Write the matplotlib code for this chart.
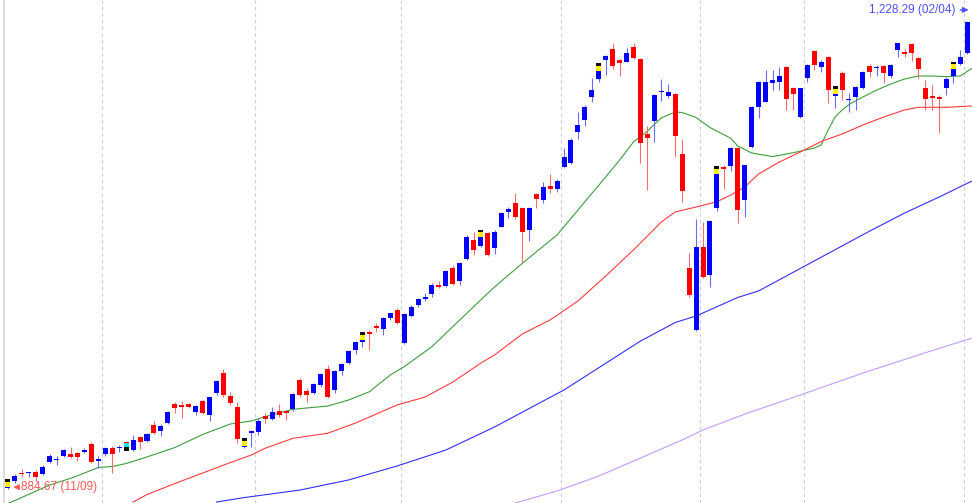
import matplotlib
matplotlib.use('Agg')
import matplotlib.pyplot as plt
from matplotlib.patches import Rectangle

# daily candles, oldest first (blue = close above open, red = close below open)
opens = [885.4, 890.8, 896.7, 896.6, 897.2, 895.7, 904.5, 906.0, 908.9, 910.6,
         911.3, 911.8, 917.7, 905.2, 910.2, 914.8, 914.6, 919.4, 913.3, 922.6,
         919.9, 931.7, 927.5, 932.9, 947.3, 946.6, 947.1, 941.4, 949.1, 939.0,
         954.9, 970.1, 953.0, 944.7, 915.5, 925.8, 926.8, 938.3, 936.3, 941.7,
         941.7, 943.2, 964.7, 956.4, 954.9, 961.0, 972.8, 957.4, 971.3, 977.0,
         986.7, 992.6, 1000.0, 1004.4, 1001.9, 1010.4, 1016.1, 991.7, 1011.7, 1019.6,
         1024.0, 1027.9, 1034.5, 1033.7, 1046.7, 1037.4, 1053.3, 1067.5, 1063.3, 1072.4,
         1061.4, 1077.3, 1088.3, 1094.4, 1090.8, 1074.8, 1101.3, 1096.9, 1107.1, 1104.9,
         1120.9, 1123.8, 1147.0, 1155.6, 1172.7, 1185.5, 1199.7, 1208.0, 1199.7, 1198.4,
         1209.4, 1200.4, 1145.3, 1155.1, 1175.9, 1173.5, 1174.5, 1130.4, 1046.7, 1001.4,
         1062.1, 1041.8, 1090.8, 1120.9, 1121.8, 1135.4, 1096.9, 1135.6, 1165.4, 1169.0,
         1183.0, 1183.7, 1194.7, 1178.9, 1157.6, 1186.2, 1206.5, 1194.3, 1202.1, 1173.2,
         1190.3, 1170.3, 1172.7, 1178.9, 1195.3, 1193.6, 1195.3, 1187.9, 1207.0, 1205.5,
         1211.2, 1200.9, 1178.9, 1173.5, 1172.3, 1178.9, 1187.9, 1196.7, 1204.6]
highs = [890.6, 895.7, 899.1, 897.2, 898.6, 902.1, 910.2, 909.1, 913.8, 915.3,
         912.0, 914.6, 919.2, 908.7, 915.3, 916.3, 916.8, 919.9, 924.1, 923.1,
         926.0, 934.4, 932.4, 942.2, 948.6, 949.3, 948.0, 946.4, 950.0, 952.4,
         964.7, 972.6, 956.1, 948.8, 917.0, 928.0, 936.6, 940.3, 945.1, 947.1,
         942.7, 954.9, 966.0, 958.6, 962.3, 969.6, 975.7, 972.1, 977.4, 986.7,
         993.6, 994.1, 1001.4, 1006.3, 1010.7, 1014.1, 1017.3, 1013.7, 1019.8, 1024.9,
         1028.8, 1035.7, 1037.2, 1045.5, 1049.1, 1051.6, 1071.2, 1073.6, 1069.5, 1073.4,
         1074.8, 1088.3, 1092.0, 1101.8, 1092.0, 1092.0, 1102.2, 1110.3, 1116.0, 1112.1,
         1134.8, 1142.2, 1161.7, 1166.6, 1186.2, 1191.6, 1203.3, 1211.9, 1200.2, 1208.3,
         1211.9, 1200.9, 1151.2, 1174.7, 1185.5, 1182.0, 1175.2, 1141.9, 1058.2, 1082.7,
         1080.9, 1082.2, 1116.0, 1122.6, 1135.6, 1136.0, 1122.6, 1165.9, 1184.2, 1192.3,
         1192.3, 1194.7, 1195.3, 1179.6, 1179.1, 1196.7, 1207.0, 1199.7, 1202.6, 1174.7,
         1191.8, 1175.2, 1180.6, 1191.8, 1196.7, 1196.0, 1195.8, 1196.7, 1212.4, 1207.5,
         1211.9, 1202.1, 1185.0, 1181.3, 1174.0, 1187.4, 1192.8, 1207.0, 1228.29]
lows = [884.67, 889.3, 893.3, 893.5, 890.8, 895.2, 904.0, 902.5, 908.4, 907.7,
        905.5, 911.1, 903.6, 899.9, 908.9, 896.7, 911.8, 913.0, 912.8, 913.8,
        919.4, 925.1, 923.6, 932.4, 940.3, 936.6, 944.2, 939.0, 939.7, 934.4,
        953.9, 952.0, 946.4, 918.2, 914.5, 915.5, 924.3, 933.4, 935.3, 937.8,
        935.3, 942.2, 952.4, 948.8, 954.4, 959.8, 951.3, 954.9, 968.4, 976.5,
        983.8, 989.2, 986.7, 1000.2, 997.7, 1008.8, 1005.8, 991.1, 1010.7, 1018.5,
        1022.9, 1025.9, 1032.0, 1032.8, 1034.5, 1034.5, 1052.8, 1056.5, 1062.4, 1055.7,
        1057.2, 1076.8, 1083.4, 1082.7, 1051.6, 1067.0, 1090.8, 1094.9, 1101.8, 1103.0,
        1120.1, 1123.3, 1141.4, 1151.2, 1169.0, 1183.7, 1188.6, 1192.8, 1187.9, 1198.0,
        1200.2, 1124.3, 1104.2, 1139.7, 1169.8, 1171.5, 1128.2, 1095.4, 1025.9, 1000.9,
        1039.4, 1033.2, 1088.8, 1104.7, 1118.4, 1080.2, 1084.6, 1134.8, 1156.9, 1168.8,
        1177.6, 1177.6, 1163.0, 1163.0, 1157.1, 1183.7, 1192.3, 1191.1, 1167.9, 1164.4,
        1170.3, 1161.7, 1163.0, 1178.1, 1187.4, 1187.9, 1182.6, 1186.2, 1202.1, 1202.1,
        1199.1, 1186.2, 1163.0, 1163.0, 1146.3, 1174.0, 1182.6, 1196.0, 1204.1]
closes = [886.1, 894.5, 895.5, 897.2, 893.3, 901.1, 908.7, 906.7, 913.3, 908.2,
          908.2, 913.5, 904.3, 906.5, 914.8, 910.2, 915.5, 918.2, 920.7, 919.2,
          925.1, 926.0, 931.2, 941.4, 944.4, 945.1, 945.1, 945.8, 940.5, 952.0,
          963.8, 953.9, 947.6, 921.2, 916.3, 927.3, 934.8, 936.3, 941.2, 939.0,
          940.3, 954.4, 953.7, 953.7, 961.8, 969.1, 952.0, 971.3, 976.7, 986.0,
          992.8, 994.1, 998.7, 1003.1, 1010.0, 1013.7, 1006.3, 1012.9, 1018.5, 1024.2,
          1025.9, 1034.5, 1033.2, 1044.5, 1035.2, 1050.4, 1069.9, 1060.2, 1069.5, 1056.5,
          1073.6, 1087.5, 1090.0, 1084.2, 1073.2, 1090.8, 1097.8, 1106.2, 1104.7, 1110.8,
          1128.2, 1140.9, 1151.9, 1165.4, 1177.6, 1191.6, 1202.6, 1195.5, 1197.2, 1205.0,
          1200.9, 1138.5, 1142.2, 1173.7, 1176.9, 1175.9, 1143.9, 1103.5, 1027.1, 1062.1,
          1040.1, 1081.7, 1116.0, 1119.6, 1134.8, 1089.5, 1122.6, 1164.9, 1183.7, 1183.7,
          1185.0, 1187.9, 1170.8, 1174.7, 1178.9, 1196.0, 1196.0, 1198.0, 1177.6, 1174.7,
          1177.6, 1171.2, 1179.6, 1191.1, 1191.1, 1194.5, 1189.9, 1196.0, 1211.9, 1203.8,
          1204.6, 1193.1, 1170.8, 1171.5, 1170.8, 1185.7, 1192.8, 1202.1, 1227.8]

# signal markers every 17 sessions (the cyan one hangs below its candle)
marker_idx = [0, 17, 34, 51, 68, 85, 102, 119, 136]
marker_below = [17]

# month boundaries (dashed lines)
month_lines = [13.5, 35.5, 56.5, 79.5, 99.5, 114.5, 137.5]

# moving averages, read at sample sessions
ma_short_x = [0, 6, 9, 11, 13, 15, 17, 20, 24, 28, 32, 35, 37, 41, 46, 49, 52, 55, 57, 61,
              65, 68, 70, 74, 79, 82, 86, 88, 90, 92, 94, 96, 97, 99, 101, 104, 105, 107,
              110, 113, 116, 117, 118, 119, 120, 121, 123, 125, 127, 129, 131, 133, 135,
              137, 138.7]
ma_short_y = [874.0, 887.6, 892.5, 896.4, 900.5, 901.2, 903.4, 908.2, 915.1, 924.7, 932.4,
              934.6, 937.8, 943.2, 945.6, 950.0, 956.1, 968.4, 974.5, 989.2, 1008.8, 1023.4,
              1033.0, 1050.4, 1071.2, 1089.5, 1113.8, 1126.2, 1139.5, 1147.5, 1157.1, 1161.5,
              1161.1, 1157.4, 1150.1, 1142.2, 1136.5, 1131.4, 1128.7, 1131.6, 1135.0, 1137.3,
              1148.3, 1157.8, 1162.9, 1167.0, 1172.5, 1177.6, 1182.0, 1185.7, 1187.9, 1187.9,
              1187.4, 1187.9, 1193.6]
ma_mid_x = [18, 20, 24, 28, 32, 35, 37, 41, 46, 50, 56, 60, 64, 68, 70, 74, 78, 82, 86, 90,
            94, 96, 99, 102, 104, 106, 108, 111, 114, 117, 120, 123, 126, 129, 131, 135, 138.7]
ma_mid_y = [875.1, 880.6, 888.7, 896.4, 904.1, 909.6, 914.6, 921.9, 925.6, 933.1, 946.4,
            952.2, 963.2, 977.0, 983.1, 998.5, 1008.8, 1022.7, 1041.1, 1060.2, 1080.7,
            1088.1, 1091.7, 1095.6, 1100.5, 1106.4, 1116.0, 1124.8, 1132.1, 1139.8, 1145.3,
            1151.9, 1157.8, 1163.0, 1164.9, 1164.9, 1165.9]
ma_long_x = [30, 34, 42, 49, 56, 63, 70, 80, 91, 96, 99, 105, 108, 124, 129, 134, 138.7]
ma_long_y = [875.1, 878.4, 883.9, 891.3, 901.6, 913.3, 930.2, 957.4, 993.3, 1006.9, 1011.7,
             1025.3, 1030.1, 1074.1, 1087.3, 1099.1, 1110.8]
ma_year_x = [73, 79, 85, 91, 97, 100, 106, 114, 123, 131, 138.7]
ma_year_y = [874.4, 883.2, 894.2, 907.4, 920.7, 928.0, 939.7, 953.7, 969.8, 983.1, 995.5]

low_label = '884.67 (11/09)'
high_label = '1,228.29 (02/04)'

label_font = ['Liberation Sans Narrow', 'Liberation Sans', 'DejaVu Sans']

fig = plt.figure(figsize=(9.72, 5.03), dpi=100)
ax = fig.add_axes([0, 0, 1, 1])
ax.set_xlim(-1.15, 138.7)
ax.set_ylim(874.4, 1243.7)
ax.axis('off')

for x in month_lines:
    ax.axvline(x, color='#cccccc', lw=0.8, ls=(0, (3, 3)), zorder=0)
ax.axvline(-0.58, color='#dddddd', lw=1.5, zorder=0)

ax.plot(ma_short_x, ma_short_y, color='#3e9e3e', lw=0.8, zorder=1)
ax.plot(ma_mid_x, ma_mid_y, color='#ff3c3c', lw=0.8, zorder=1)
ax.plot(ma_long_x, ma_long_y, color='#3030ff', lw=0.8, zorder=1)
ax.plot(ma_year_x, ma_year_y, color='#c49cff', lw=0.8, zorder=1)

w = 0.72
for i in range(len(opens)):
    up = closes[i] >= opens[i]
    body_c = '#0000ff' if up else '#ff0000'
    wick_c = '#6a6aff' if up else '#ff6a6a'
    ax.vlines(i, lows[i], highs[i], color=wick_c, lw=0.8, zorder=2)
    lo = min(opens[i], closes[i])
    hi = max(opens[i], closes[i])
    ax.add_patch(Rectangle((i - w / 2, lo), w, max(hi - lo, 0.7),
                           facecolor=body_c, edgecolor='none', zorder=3))

for i in marker_idx:
    if i in marker_below:
        bot = min(opens[i], closes[i])
        ax.add_patch(Rectangle((i - w / 2, bot - 2.5), w, 2.5,
                               facecolor='#20e0e8', edgecolor='none', zorder=4))
        ax.add_patch(Rectangle((i - w / 2, bot - 5.7), w, 3.2,
                               facecolor='#111111', edgecolor='none', zorder=4))
    else:
        top = max(opens[i], closes[i])
        ax.add_patch(Rectangle((i - w / 2, top), w, 3.7,
                               facecolor='#ffee00', edgecolor='none', zorder=4))
        ax.add_patch(Rectangle((i - w / 2, top + 3.7), w, 2.0,
                               facecolor='#111111', edgecolor='none', zorder=4))

ax.annotate('', xy=(0.35, 886.0), xytext=(1.9, 886.0),
            arrowprops=dict(arrowstyle='-|>', color='#ff5a5a', lw=1.0,
                            mutation_scale=8), zorder=5)
ax.text(1.85, 886.0, low_label, color='#ff5a5a', fontsize=8.5, family=label_font,
        ha='left', va='center', zorder=5)

ax.text(136.3, 1236.4, high_label, color='#5050ff', fontsize=8.5, family=label_font,
        ha='right', va='center', zorder=5)
ax.annotate('', xy=(138.6, 1236.4), xytext=(136.6, 1236.4),
            arrowprops=dict(arrowstyle='-|>', color='#5050ff', lw=1.0,
                            mutation_scale=8), zorder=5)

fig.savefig('out.png', dpi=100, facecolor='white')
